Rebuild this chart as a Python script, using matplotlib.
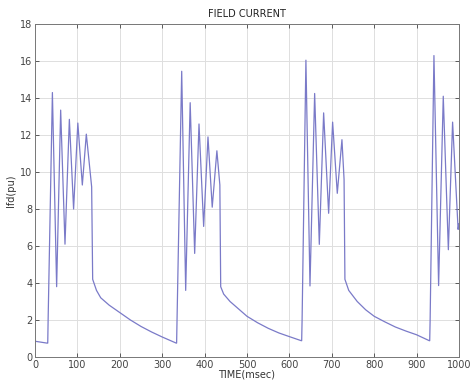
import matplotlib.pyplot as plt

# field current trace (t in msec, Ifd in pu)
time_ms = [0, 28, 30, 31, 41, 51, 60.5, 70.7, 81, 91, 101, 111.6, 121, 133.6, 136,
           145, 155, 175, 200, 225, 250, 275, 300, 333,
           334, 335, 346, 355.4, 366, 376.6, 386.8, 397.8, 408, 418, 429, 436, 438,
           445, 460, 480, 500, 525, 550, 575, 600, 628,
           629, 630, 639, 648.6, 659.6, 670.6, 680.8, 692.6, 702, 713, 724, 729, 731,
           740, 760, 780, 800, 825, 850, 875, 900, 930,
           931, 932, 941, 952, 963, 975, 985, 998, 1000]
ifd_pu = [0.85, 0.75, 0.75, 2.1, 14.3, 3.8, 13.35, 6.1, 12.85, 8.0, 12.65, 9.3, 12.05, 9.2, 4.2,
          3.6, 3.2, 2.8, 2.4, 2.0, 1.65, 1.35, 1.08, 0.75,
          0.75, 2.0, 15.45, 3.6, 13.75, 5.6, 12.6, 7.06, 11.9, 8.1, 11.15, 9.3, 3.8,
          3.4, 3.0, 2.6, 2.2, 1.85, 1.55, 1.3, 1.1, 0.88,
          0.88, 2.0, 16.05, 3.84, 14.25, 6.09, 13.2, 7.77, 12.7, 8.85, 11.75, 9.6, 4.2,
          3.6, 3.0, 2.55, 2.2, 1.9, 1.62, 1.4, 1.2, 0.88,
          0.88, 2.0, 16.3, 3.86, 14.1, 5.8, 12.7, 6.9, 7.2]

x_ticks = [0, 100, 200, 300, 400, 500, 600, 700, 800, 900, 1000]
y_ticks = [0, 2, 4, 6, 8, 10, 12, 14, 16, 18]

fig = plt.figure(figsize=(4.7, 3.83), dpi=100)
ax = fig.add_axes([0.0745, 0.068, 0.902, 0.869])

ax.plot(time_ms, ifd_pu, color='#7a7ac8', linewidth=0.9)

ax.set_xlim(0, 1000)
ax.set_ylim(0, 18)
ax.set_xticks(x_ticks)
ax.set_yticks(y_ticks)
ax.grid(True, color='#dedede', linewidth=0.7)
ax.set_axisbelow(True)
ax.tick_params(direction='in', top=True, right=True, labelsize=7,
               length=3, width=0.6, colors='#444444', pad=2)
for s in ax.spines.values():
    s.set_color('#777777')
    s.set_linewidth(0.7)

ax.set_title('FIELD CURRENT', fontsize=7, color='#222222', pad=5)
ax.set_xlabel('TIME(msec)', fontsize=7, color='#333333', labelpad=0)
ax.set_ylabel('Ifd(pu)', fontsize=7, color='#333333', labelpad=3)

fig.savefig('out.png', dpi=100)
